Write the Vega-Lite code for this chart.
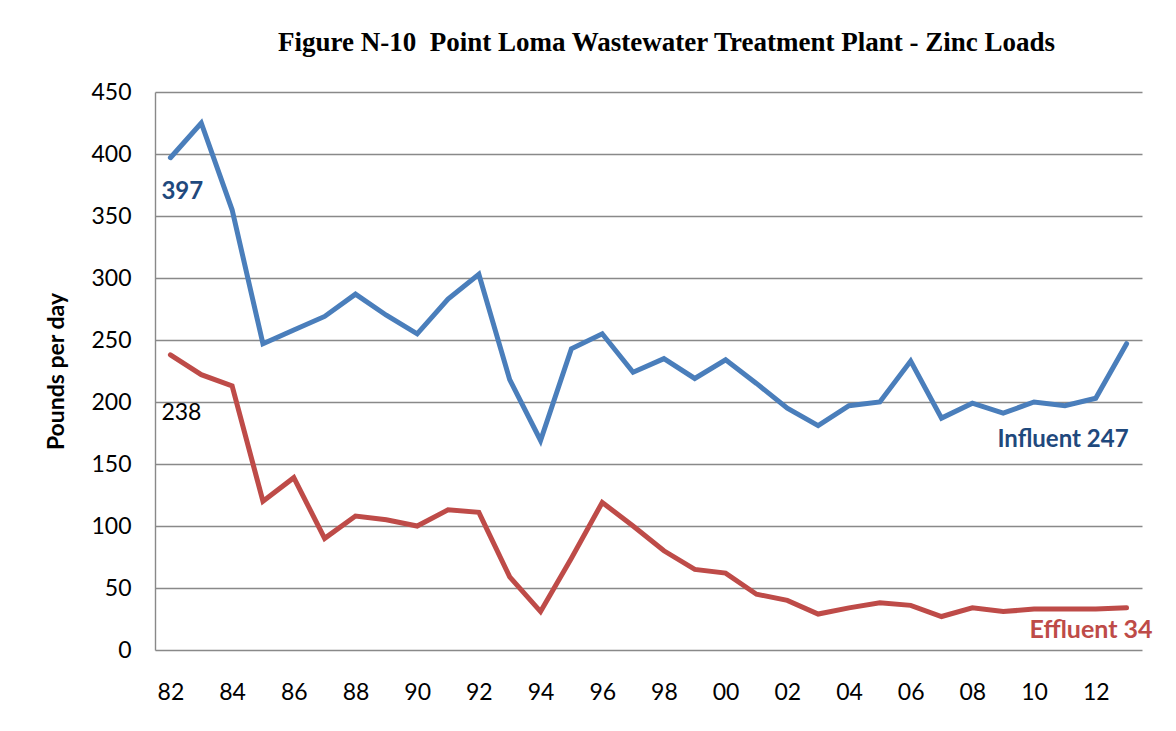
{
  "$schema": "https://vega.github.io/schema/vega-lite/v6.json",
  "width": 987,
  "height": 558,
  "autosize": {"type": "none"},
  "padding": {"left": 155, "top": 92, "right": 34, "bottom": 81},
  "background": "white",
  "title": {
    "text": "Figure N-10\u00a0 Point Loma Wastewater Treatment Plant - Zinc Loads",
    "font": "Liberation Serif",
    "fontWeight": "bold",
    "fontSize": 27,
    "color": "black",
    "offset": 24,
    "dx": 18
  },
  "datasets": {
    "loads": [
      {"year": 1982, "series": "Influent", "value": 397},
      {"year": 1983, "series": "Influent", "value": 425},
      {"year": 1984, "series": "Influent", "value": 355},
      {"year": 1985, "series": "Influent", "value": 247},
      {"year": 1986, "series": "Influent", "value": 258},
      {"year": 1987, "series": "Influent", "value": 269},
      {"year": 1988, "series": "Influent", "value": 287},
      {"year": 1989, "series": "Influent", "value": 270},
      {"year": 1990, "series": "Influent", "value": 255},
      {"year": 1991, "series": "Influent", "value": 283},
      {"year": 1992, "series": "Influent", "value": 303},
      {"year": 1993, "series": "Influent", "value": 218},
      {"year": 1994, "series": "Influent", "value": 169},
      {"year": 1995, "series": "Influent", "value": 243},
      {"year": 1996, "series": "Influent", "value": 255},
      {"year": 1997, "series": "Influent", "value": 224},
      {"year": 1998, "series": "Influent", "value": 235},
      {"year": 1999, "series": "Influent", "value": 219},
      {"year": 2000, "series": "Influent", "value": 234},
      {"year": 2001, "series": "Influent", "value": 215},
      {"year": 2002, "series": "Influent", "value": 195},
      {"year": 2003, "series": "Influent", "value": 181},
      {"year": 2004, "series": "Influent", "value": 197},
      {"year": 2005, "series": "Influent", "value": 200},
      {"year": 2006, "series": "Influent", "value": 233},
      {"year": 2007, "series": "Influent", "value": 187},
      {"year": 2008, "series": "Influent", "value": 199},
      {"year": 2009, "series": "Influent", "value": 191},
      {"year": 2010, "series": "Influent", "value": 200},
      {"year": 2011, "series": "Influent", "value": 197},
      {"year": 2012, "series": "Influent", "value": 203},
      {"year": 2013, "series": "Influent", "value": 247},
      {"year": 1982, "series": "Effluent", "value": 238},
      {"year": 1983, "series": "Effluent", "value": 222},
      {"year": 1984, "series": "Effluent", "value": 213},
      {"year": 1985, "series": "Effluent", "value": 120},
      {"year": 1986, "series": "Effluent", "value": 139},
      {"year": 1987, "series": "Effluent", "value": 90},
      {"year": 1988, "series": "Effluent", "value": 108},
      {"year": 1989, "series": "Effluent", "value": 105},
      {"year": 1990, "series": "Effluent", "value": 100},
      {"year": 1991, "series": "Effluent", "value": 113},
      {"year": 1992, "series": "Effluent", "value": 111},
      {"year": 1993, "series": "Effluent", "value": 59},
      {"year": 1994, "series": "Effluent", "value": 31},
      {"year": 1995, "series": "Effluent", "value": 74},
      {"year": 1996, "series": "Effluent", "value": 119},
      {"year": 1997, "series": "Effluent", "value": 100},
      {"year": 1998, "series": "Effluent", "value": 80},
      {"year": 1999, "series": "Effluent", "value": 65},
      {"year": 2000, "series": "Effluent", "value": 62},
      {"year": 2001, "series": "Effluent", "value": 45},
      {"year": 2002, "series": "Effluent", "value": 40},
      {"year": 2003, "series": "Effluent", "value": 29},
      {"year": 2004, "series": "Effluent", "value": 34},
      {"year": 2005, "series": "Effluent", "value": 38},
      {"year": 2006, "series": "Effluent", "value": 36},
      {"year": 2007, "series": "Effluent", "value": 27},
      {"year": 2008, "series": "Effluent", "value": 34},
      {"year": 2009, "series": "Effluent", "value": 31},
      {"year": 2010, "series": "Effluent", "value": 33},
      {"year": 2011, "series": "Effluent", "value": 33},
      {"year": 2012, "series": "Effluent", "value": 33},
      {"year": 2013, "series": "Effluent", "value": 34}
    ],
    "labels": [
      {"year": 1982, "series": "Influent", "value": 397, "label": "397"},
      {"year": 1982, "series": "Effluent", "value": 238, "label": "238"},
      {"year": 2013, "series": "Influent", "value": 247, "label": "Influent 247"},
      {"year": 2013, "series": "Effluent", "value": 34, "label": "Effluent 34"}
    ]
  },
  "encoding": {
    "x": {
      "field": "year",
      "type": "ordinal",
      "scale": {"type": "point", "padding": 0.5},
      "axis": {
        "title": null,
        "values": [1982, 1984, 1986, 1988, 1990, 1992, 1994, 1996, 1998, 2000, 2002, 2004, 2006, 2008, 2010, 2012],
        "labelExpr": "substring(datum.label, 2)",
        "labelAngle": 0,
        "labelFont": "Lato",
        "labelFontSize": 23,
        "labelColor": "black",
        "labelPadding": 31,
        "ticks": false,
        "domain": false,
        "grid": false
      }
    },
    "y": {
      "field": "value",
      "type": "quantitative",
      "scale": {"domain": [0, 450], "nice": false},
      "axis": {
        "values": [0, 50, 100, 150, 200, 250, 300, 350, 400, 450],
        "title": "Pounds per day",
        "titleFont": "Lato",
        "titleFontSize": 23,
        "titleFontWeight": "bold",
        "titleColor": "black",
        "titleX": -99,
        "titleY": 279,
        "titleAlign": "center",
        "titleBaseline": "middle",
        "labelFont": "Lato",
        "labelFontSize": 23,
        "labelColor": "black",
        "labelPadding": 24,
        "ticks": false,
        "domain": true,
        "domainColor": "#898989",
        "domainWidth": 1.4,
        "grid": true,
        "gridColor": "#898989",
        "gridWidth": 1.4
      }
    }
  },
  "layer": [
    {
      "data": {"name": "loads"},
      "mark": {"type": "line", "strokeWidth": 5, "strokeJoin": "miter", "strokeCap": "round"},
      "encoding": {
        "color": {
          "field": "series",
          "type": "nominal",
          "scale": {"domain": ["Influent", "Effluent"], "range": ["#4A7EBB", "#BE4B48"]},
          "legend": null
        }
      }
    },
    {
      "data": {"name": "labels"},
      "transform": [{"filter": "datum.label == '397'"}],
      "mark": {"type": "text", "align": "left", "baseline": "middle", "dx": -9, "dy": 34, "font": "Lato", "fontSize": 24, "fontWeight": "bold", "color": "#1F497D"},
      "encoding": {"text": {"field": "label"}}
    },
    {
      "data": {"name": "labels"},
      "transform": [{"filter": "datum.label == '238'"}],
      "mark": {"type": "text", "align": "left", "baseline": "middle", "dx": -9, "dy": 58, "font": "Lato", "fontSize": 23, "color": "black"},
      "encoding": {"text": {"field": "label"}}
    },
    {
      "data": {"name": "labels"},
      "transform": [{"filter": "datum.label == 'Influent 247'"}],
      "mark": {"type": "text", "align": "right", "baseline": "middle", "dx": 2, "dy": 96, "font": "Lato", "fontSize": 24, "fontWeight": "bold", "color": "#1F497D"},
      "encoding": {"text": {"field": "label"}}
    },
    {
      "data": {"name": "labels"},
      "transform": [{"filter": "datum.label == 'Effluent 34'"}],
      "mark": {"type": "text", "align": "right", "baseline": "middle", "dx": 26, "dy": 22, "font": "Lato", "fontSize": 25, "fontWeight": "bold", "color": "#BE4B48"},
      "encoding": {"text": {"field": "label"}}
    }
  ],
  "config": {
    "view": {"stroke": null}
  }
}
